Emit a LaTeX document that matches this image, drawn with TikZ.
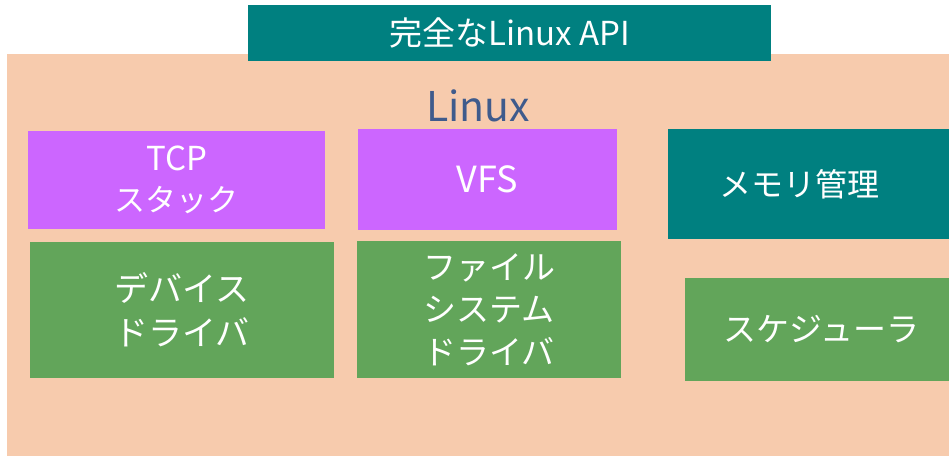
\documentclass[tikz,border=0pt]{standalone}
\usepackage{fontspec}
\setmainfont{Noto Sans CJK JP}
\definecolor{peach}{HTML}{F7CBAD}
\definecolor{tealbox}{HTML}{008080}
\definecolor{purplebox}{HTML}{CC66FF}
\definecolor{greenbox}{HTML}{62A55A}
\definecolor{linuxtext}{HTML}{3F5B8C}
\begin{document}
\begin{tikzpicture}[x=1pt,y=-1pt,
  blk/.style={inner sep=0pt, outer sep=0pt, text=white, align=center,
    font=\fontsize{33}{44}\selectfont},
  boxtxt/.style={inner sep=0pt, text=white, align=center,
    font=\fontsize{32}{40}\selectfont}
]
\useasboundingbox (0,0) rectangle (949,456);
\fill[white] (0,0) rectangle (949,456);
\node[fill=peach, inner sep=0pt, minimum width=950pt, minimum height=402pt, anchor=north west] (bg) at (7,54) {};
\node[fill=tealbox, blk, minimum width=523pt, minimum height=56pt, font=\fontsize{33}{36}\selectfont] (api) at (509.5,33) {完全なLinux API};
\node[inner sep=0pt, text=linuxtext, font=\fontsize{41}{48}\selectfont] (linux) at (478,106) {Linux};
\node[fill=purplebox, blk, minimum width=297pt, minimum height=98pt, font=\fontsize{31}{41}\selectfont] (tcp) at (176.5,180) {{\fontsize{33}{41}\selectfont TCP}\\スタック};
\node[fill=purplebox, blk, minimum width=259pt, minimum height=101pt, font=\fontsize{36}{40}\selectfont] (vfs) at (487.5,179.5) {VFS};
\node[fill=tealbox, blk, minimum width=300pt, minimum height=110pt, anchor=north west] (mem) at (668,129) {};
\node[boxtxt] (memtxt) at (799,184) {メモリ管理};
\node[fill=greenbox, blk, minimum width=304pt, minimum height=136pt, font=\fontsize{34}{44}\selectfont] (dev) at (182,310) {デバイス\\ドライバ};
\node[fill=greenbox, blk, minimum width=264pt, minimum height=137pt, font=\fontsize{33}{42.5}\selectfont] (fs) at (489,309.5) {ファイル\\システム\\ドライバ};
\node[fill=greenbox, blk, minimum width=273pt, minimum height=103pt, font=\fontsize{33}{40}\selectfont] (sched) at (821.5,329.5) {スケジューラ};
\end{tikzpicture}
\end{document}
